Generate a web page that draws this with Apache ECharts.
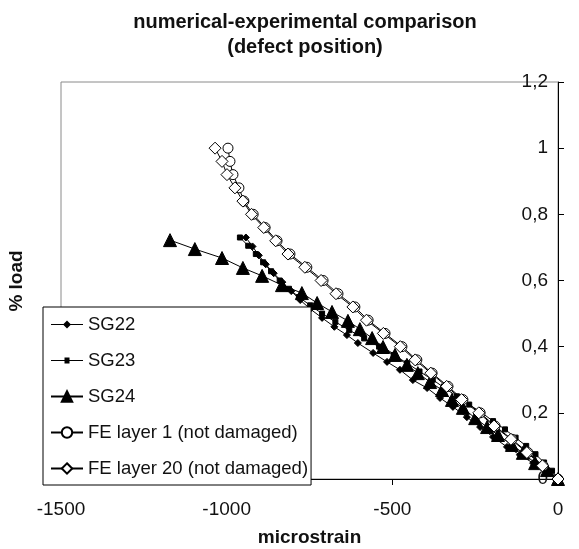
<!DOCTYPE html>
<html>
<head>
<meta charset="utf-8">
<script src="https://cdn.jsdelivr.net/npm/echarts@6/dist/echarts.min.js"></script>
<style>
  html, body { margin: 0; padding: 0; background: #fff; }
  #chart { width: 579px; height: 549px; }
</style>
</head>
<body>
<div id="chart"></div>
<script>
// Strain gauge readings (microstrain) against applied load fraction
const sg22Strain = [-942, -922, -903, -882, -858, -832, -805, -778, -748, -712, -675, -637, -604, -558, -516, -477, -438, -395, -356, -317, -275, -235, -196, -154, -115, -75, -33, 0];
const sg22Load   = [0.73, 0.703, 0.676, 0.649, 0.622, 0.595, 0.568, 0.541, 0.514, 0.487, 0.46, 0.435, 0.411, 0.381, 0.354, 0.33, 0.299, 0.275, 0.245, 0.218, 0.187, 0.157, 0.127, 0.097, 0.073, 0.048, 0.021, 0];

const sg23Strain = [-960, -935, -912, -890, -866, -840, -812, -782, -748, -712, -672, -630, -585, -540, -496, -455, -418, -378, -342, -305, -268, -230, -196, -160, -128, -96, -68, -42, -18, 0];
const sg23Load   = [0.73, 0.705, 0.68, 0.655, 0.628, 0.60, 0.575, 0.55, 0.525, 0.50, 0.475, 0.45, 0.425, 0.40, 0.375, 0.35, 0.325, 0.30, 0.275, 0.25, 0.225, 0.20, 0.175, 0.15, 0.125, 0.10, 0.075, 0.05, 0.025, 0];

const sg24Strain = [-1171, -1096, -1014, -951, -893, -833, -773, -727, -682, -634, -598, -561, -528, -492, -456, -423, -386, -350, -320, -287, -250, -214, -181, -139, -106, -69, -33, 0];
const sg24Load   = [0.722, 0.695, 0.668, 0.638, 0.614, 0.586, 0.562, 0.532, 0.505, 0.478, 0.453, 0.426, 0.399, 0.375, 0.345, 0.320, 0.293, 0.269, 0.239, 0.215, 0.184, 0.157, 0.133, 0.103, 0.079, 0.048, 0.027, 0];

// Finite element predictions, undamaged model
const feLoad    = [0, 0.04, 0.08, 0.12, 0.16, 0.20, 0.24, 0.28, 0.32, 0.36, 0.40, 0.44, 0.48, 0.52, 0.56, 0.60, 0.64, 0.68, 0.72, 0.76, 0.80, 0.84, 0.88, 0.92, 0.96, 1.00];
const fe1Strain  = [0, -45, -91, -139, -190, -235, -287, -332, -380, -426, -471, -522, -573, -613, -664, -709, -758, -809, -848, -884, -920, -948, -963, -981, -990, -996];
const fe20Strain = [0, -47, -94, -142, -193, -239, -291, -336, -384, -431, -476, -527, -578, -619, -670, -715, -764, -815, -852, -888, -925, -951, -975, -999, -1014, -1035];

const xTicks = { min: -1500, max: 0, step: 500 };
const yTicks = { min: 0, max: 1.2, step: 0.2 };

const FONT = "'Liberation Sans', Arial, sans-serif";

// Legend keys for the small gauge markers: a thin stroke with a small marker in the middle
const ICON_SMALL_DIAMOND = 'path://M0,3.5L12.5,3.5L16,0L19.5,3.5L32,3.5L32,4.5L19.5,4.5L16,8L12.5,4.5L0,4.5Z';
const ICON_SMALL_SQUARE  = 'path://M0,3L13.5,3L13.5,0.5L18.5,0.5L18.5,3L32,3L32,4L18.5,4L18.5,6.5L13.5,6.5L13.5,4L0,4Z';

function pairs(xs, ys) {
  return xs.map((x, i) => [x, ys[i]]);
}

function lineSeries(name, xs, ys, symbol, size, extra) {
  return Object.assign({
    name: name,
    type: 'line',
    data: pairs(xs, ys),
    symbol: symbol,
    symbolSize: size,
    showAllSymbol: true,
    lineStyle: { color: '#000', width: 1 },
    itemStyle: { color: '#000', borderColor: '#000', borderWidth: 1 },
    emphasis: { disabled: true },
    animation: false
  }, extra || {});
}

const chart = echarts.init(document.getElementById('chart'), null, { renderer: 'canvas' });

chart.setOption({
  backgroundColor: '#fff',
  textStyle: { fontFamily: FONT },
  title: {
    text: 'numerical-experimental comparison\n(defect position)',
    left: 300,
    top: 5,
    textAlign: 'center',
    textStyle: { fontFamily: FONT, fontSize: 20, fontWeight: 'bold', color: '#111', lineHeight: 25 }
  },
  grid: {
    left: 61, right: 21, top: 82, bottom: 70,
    outerBoundsMode: 'none',
    containLabel: false,
    show: true, borderColor: '#8a8a8a', borderWidth: 1, backgroundColor: 'transparent'
  },
  legend: {
    orient: 'vertical',
    left: 43,
    top: 307,
    padding: [8, 3, 7, 7],
    itemGap: 17,
    itemWidth: 32,
    itemHeight: 13,
    backgroundColor: '#fff',
    borderColor: '#000',
    borderWidth: 1,
    borderRadius: 0,
    textStyle: { fontFamily: FONT, fontSize: 18.5, color: '#111' },
    data: [
      { name: 'SG22', icon: ICON_SMALL_DIAMOND, itemStyle: { borderWidth: 0 } },
      { name: 'SG23', icon: ICON_SMALL_SQUARE, itemStyle: { borderWidth: 0 } },
      'SG24',
      'FE layer 1 (not damaged)',
      'FE layer 20 (not damaged)'
    ]
  },
  xAxis: {
    type: 'value',
    min: xTicks.min, max: xTicks.max, interval: xTicks.step,
    name: 'microstrain',
    nameLocation: 'middle',
    nameGap: 49,
    nameTextStyle: { fontFamily: FONT, fontSize: 19, fontWeight: 'bold', color: '#111' },
    axisLine: { show: true, onZero: false, lineStyle: { color: '#000', width: 1 } },
    axisTick: { show: true, inside: false, length: 6, lineStyle: { color: '#000' } },
    axisLabel: {
      fontFamily: FONT, fontSize: 19, color: '#111', margin: 21,
      showMinLabel: true, showMaxLabel: true,
      formatter: v => String(v)
    },
    splitLine: { show: false }
  },
  yAxis: {
    type: 'value',
    position: 'right',
    min: yTicks.min, max: yTicks.max, interval: yTicks.step,
    axisLine: { show: true, onZero: false, lineStyle: { color: '#000', width: 1 } },
    axisTick: { show: true, inside: false, length: 6, lineStyle: { color: '#000' } },
    axisLabel: {
      inside: true,
      margin: 10,
      fontFamily: FONT, fontSize: 19, color: '#111',
      showMinLabel: true, showMaxLabel: true,
      formatter: v => String(+v.toFixed(1)).replace('.', ',')
    },
    splitLine: { show: false }
  },
  graphic: [{
    type: 'text',
    x: 17,
    y: 281,
    rotation: Math.PI / 2,
    style: {
      text: '% load',
      fontFamily: FONT, fontSize: 19, fontWeight: 'bold', fill: '#111',
      textAlign: 'center', textVerticalAlign: 'middle'
    }
  }],
  series: [
    lineSeries('SG22', sg22Strain, sg22Load, 'diamond', 7),
    lineSeries('SG23', sg23Strain, sg23Load, 'rect', 5),
    lineSeries('SG24', sg24Strain, sg24Load, 'triangle', 13),
    lineSeries('FE layer 1 (not damaged)', fe1Strain, feLoad, 'circle', 10, {
      itemStyle: { color: '#fff', borderColor: '#000', borderWidth: 1 }
    }),
    lineSeries('FE layer 20 (not damaged)', fe20Strain, feLoad, 'diamond', 12, {
      itemStyle: { color: '#fff', borderColor: '#000', borderWidth: 1 }
    })
  ]
});
</script>
</body>
</html>
